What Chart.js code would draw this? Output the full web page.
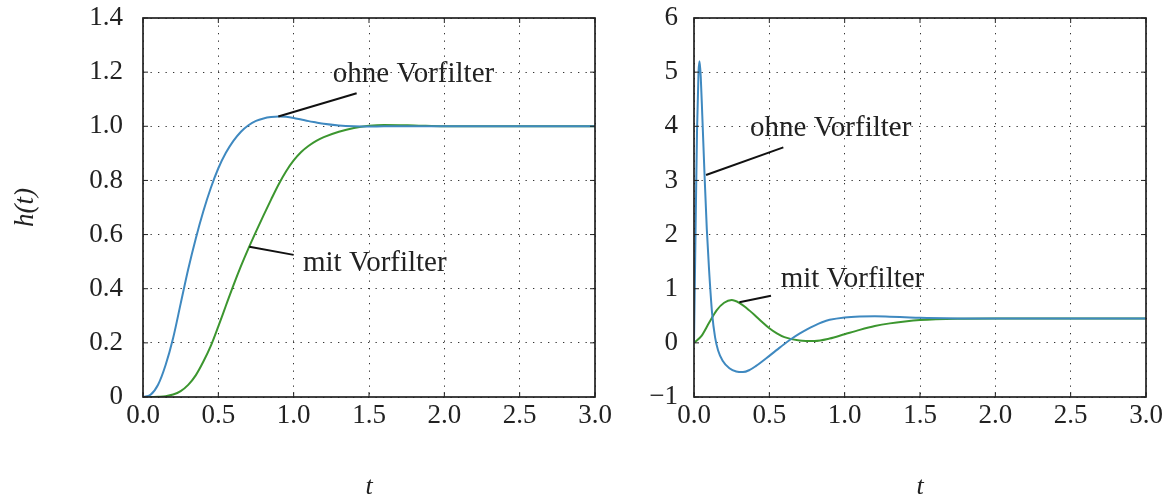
<!DOCTYPE html>
<html>
<head>
<meta charset="utf-8">
<script src="https://cdn.jsdelivr.net/npm/chart.js@4.4.0/dist/chart.umd.min.js"></script>
<style>
  body { margin: 0; background: #fff; width: 1174px; height: 500px; position: relative; overflow: hidden; }
  #links { position: absolute; left: 0; top: 0; }
  #rechts { position: absolute; left: 620px; top: 0; }
</style>
</head>
<body>
<canvas id="links" width="620" height="500"></canvas>
<canvas id="rechts" width="554" height="500"></canvas>
<script>
// Sprungantworten, links
let tLinks = [0, 0.05, 0.1, 0.15, 0.2, 0.25, 0.3, 0.35, 0.4, 0.45, 0.5, 0.55, 0.6, 0.65, 0.7, 0.75, 0.8, 0.85, 0.9, 0.95, 1.0, 1.05, 1.1, 1.15, 1.2, 1.3, 1.4, 1.5, 1.6, 1.8, 2.0, 2.5, 3.0];
let ohneLinks = [0, 0.008, 0.045, 0.118, 0.218, 0.345, 0.472, 0.585, 0.685, 0.772, 0.845, 0.902, 0.946, 0.98, 1.004, 1.02, 1.029, 1.034, 1.036, 1.035, 1.031, 1.025, 1.019, 1.014, 1.009, 1.003, 1.0, 0.999, 1.0, 1.0, 1.0, 1.0, 1.0];
let mitLinks = [0, 0.0, 0.001, 0.003, 0.009, 0.022, 0.045, 0.08, 0.13, 0.189, 0.261, 0.337, 0.412, 0.483, 0.549, 0.611, 0.671, 0.729, 0.785, 0.834, 0.874, 0.905, 0.928, 0.946, 0.96, 0.98, 0.994, 1.002, 1.005, 1.003, 1.0, 1.0, 1.0];

// Sprungantworten, rechts
let tRechtsOhne = [0, 0.005, 0.01, 0.02, 0.03, 0.037, 0.045, 0.055, 0.07, 0.085, 0.1, 0.12, 0.14, 0.16, 0.19, 0.235, 0.28, 0.325, 0.37, 0.41, 0.5, 0.55, 0.6, 0.65, 0.7, 0.75, 0.8, 0.85, 0.9, 1.0, 1.1, 1.2, 1.3, 1.4, 1.5, 1.75, 2.0, 2.5, 3.0];
let ohneRechts = [0, 1.0, 2.0, 3.9, 5.0, 5.2, 4.9, 4.2, 3.1, 2.1, 1.35, 0.55, 0.1, -0.14, -0.33, -0.47, -0.53, -0.54, -0.5, -0.43, -0.24, -0.13, -0.02, 0.08, 0.17, 0.25, 0.32, 0.38, 0.425, 0.47, 0.487, 0.49, 0.482, 0.472, 0.462, 0.452, 0.45, 0.45, 0.45];
let tRechtsMit = [0, 0.05, 0.1, 0.15, 0.2, 0.25, 0.3, 0.35, 0.4, 0.45, 0.5, 0.55, 0.6, 0.7, 0.8, 0.9, 1.0, 1.1, 1.2, 1.3, 1.4, 1.5, 1.75, 2.0, 2.5, 3.0];
let mitRechts = [0, 0.13, 0.37, 0.6, 0.74, 0.79, 0.74, 0.64, 0.52, 0.39, 0.27, 0.175, 0.105, 0.045, 0.035, 0.08, 0.16, 0.24, 0.31, 0.36, 0.395, 0.42, 0.445, 0.45, 0.45, 0.45];

Chart.defaults.font.family = '"Liberation Serif", serif';
Chart.defaults.color = '#222';

const BLAU = '#3f89c0';
const GRUEN = '#3c962f';

function punkte(t, h) {
  return t.map((v, i) => ({ x: v, y: h[i] }));
}

function kurve(label, t, h, farbe) {
  return {
    label: label,
    data: punkte(t, h),
    borderColor: farbe,
    borderWidth: 2,
    pointRadius: 0,
    tension: 0.4,
    cubicInterpolationMode: 'monotone'
  };
}

// Rahmen, Ticks nach innen und Beschriftungen mit Linie
const rahmen = {
  id: 'rahmen',
  afterDatasetsDraw(chart, args, opts) {
    const ctx = chart.ctx;
    const a = chart.chartArea;
    const x = chart.scales.x, y = chart.scales.y;
    const linie = (x1, y1, x2, y2) => { ctx.beginPath(); ctx.moveTo(x1, y1); ctx.lineTo(x2, y2); ctx.stroke(); };
    ctx.save();
    ctx.strokeStyle = '#222';
    ctx.lineWidth = 1;
    x.ticks.forEach(t => {
      const px = x.getPixelForValue(t.value);
      linie(px, a.bottom, px, a.bottom - 5);
      linie(px, a.top, px, a.top + 5);
    });
    y.ticks.forEach(t => {
      const py = y.getPixelForValue(t.value);
      linie(a.left, py, a.left + 5, py);
      linie(a.right, py, a.right - 5, py);
    });
    ctx.lineWidth = 1.7;
    ctx.strokeRect(a.left, a.top, a.right - a.left, a.bottom - a.top);

    ctx.font = '29px "Liberation Serif", serif';
    ctx.fillStyle = '#222';
    ctx.textBaseline = 'middle';
    ctx.lineWidth = 2;
    ctx.strokeStyle = '#111';
    (opts.items || []).forEach(it => {
      linie(x.getPixelForValue(it.von[0]), y.getPixelForValue(it.von[1]),
            x.getPixelForValue(it.bis[0]), y.getPixelForValue(it.bis[1]));
      ctx.fillText(it.text, x.getPixelForValue(it.pos[0]), y.getPixelForValue(it.pos[1]));
    });
    ctx.restore();
  }
};

function optionen(cfg) {
  return {
    responsive: false,
    animation: false,
    layout: { padding: { left: 0, top: 18, right: cfg.rechts, bottom: 0 } },
    plugins: {
      legend: { display: false },
      tooltip: { enabled: false },
      rahmen: { items: cfg.items }
    },
    scales: {
      x: {
        type: 'linear', min: 0, max: 3,
        afterFit: s => { s.height = 103; s.paddingLeft = 0; s.paddingRight = 0; },
        ticks: { stepSize: 0.5, padding: 3, font: { size: 27 }, callback: v => v.toFixed(1) },
        grid: { color: '#333', lineWidth: 1, drawTicks: false },
        border: { display: false, dash: [1.3, 6.2] },
        title: { display: true, text: 't', font: { size: 26, style: 'italic', lineHeight: 1.0 }, padding: { top: 0, bottom: 0 } }
      },
      y: {
        min: cfg.ymin, max: cfg.ymax,
        afterFit: s => { s.width = cfg.ybreite; s.paddingTop = 0; s.paddingBottom = 0; },
        ticks: { stepSize: cfg.schritt, padding: cfg.ypad, font: { size: 27 }, callback: cfg.format },
        grid: { color: '#333', lineWidth: 1, drawTicks: false },
        border: { display: false, dash: [1.3, 6.2] },
        title: { display: cfg.ytitel !== '', text: cfg.ytitel, font: { size: 27, style: 'italic', lineHeight: 1.2 }, padding: { top: 10, bottom: 0 } }
      }
    }
  };
}

new Chart(document.getElementById('links').getContext('2d'), {
  type: 'line',
  data: {
    datasets: [
      kurve('ohne Vorfilter', tLinks, ohneLinks, BLAU),
      kurve('mit Vorfilter', tLinks, mitLinks, GRUEN)
    ]
  },
  options: optionen({
    rechts: 25, ymin: 0, ymax: 1.4, schritt: 0.2, ybreite: 143, ypad: 20, ytitel: 'h(t)',
    format: v => (Math.abs(v) < 1e-9 ? '0' : v.toFixed(1)),
    items: [
      { text: 'ohne Vorfilter', pos: [1.26, 1.193], von: [0.898, 1.036], bis: [1.418, 1.122] },
      { text: 'mit Vorfilter', pos: [1.062, 0.495], von: [0.706, 0.555], bis: [1.0, 0.525] }
    ]
  }),
  plugins: [rahmen]
});

new Chart(document.getElementById('rechts').getContext('2d'), {
  type: 'line',
  data: {
    datasets: [
      kurve('ohne Vorfilter', tRechtsOhne, ohneRechts, BLAU),
      kurve('mit Vorfilter', tRechtsMit, mitRechts, GRUEN)
    ]
  },
  options: optionen({
    rechts: 28, ymin: -1, ymax: 6, schritt: 1, ybreite: 74, ypad: 16, ytitel: '',
    format: v => (v < 0 ? '\u2212' + Math.abs(v) : String(v)),
    items: [
      { text: 'ohne Vorfilter', pos: [0.372, 3.97], von: [0.08, 3.1], bis: [0.593, 3.61] },
      { text: 'mit Vorfilter', pos: [0.575, 1.18], von: [0.301, 0.75], bis: [0.511, 0.87] }
    ]
  }),
  plugins: [rahmen]
});
</script>
</body>
</html>
